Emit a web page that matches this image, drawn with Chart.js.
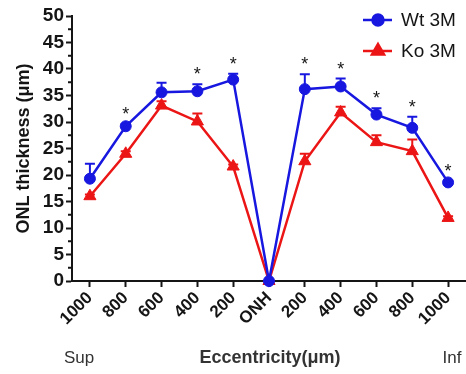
<!DOCTYPE html>
<html>
<head>
<meta charset="utf-8">
<script src="https://cdn.jsdelivr.net/npm/chart.js@4/dist/chart.umd.min.js"></script>
<style>
  html, body { margin: 0; padding: 0; background: #fff; }
  #wrap { width: 466px; height: 374px; }
</style>
</head>
<body>
<div id="wrap"><canvas id="myChart" width="466" height="374"></canvas></div>
<script>
const categories = ['1000', '800', '600', '400', '200', 'ONH', '200', '400', '600', '800', '1000'];
const wtValues = [19.3, 29.2, 35.6, 35.8, 38.0, 0, 36.2, 36.7, 31.4, 28.9, 18.6];
const wtErr    = [2.8, 0.4, 1.8, 1.3, 1.1, 0, 2.8, 1.5, 1.2, 2.1, 0.3];
const koValues = [16.0, 24.0, 33.1, 30.1, 21.6, 0, 22.6, 31.8, 26.2, 24.5, 11.9];
const koErr    = [0.3, 0.5, 0.8, 1.5, 0.4, 0, 1.4, 1.1, 1.3, 2.2, 0.3];
const stars    = [false, true, false, true, true, false, true, true, true, true, true];
const yTicks   = [0, 5, 10, 15, 20, 25, 30, 35, 40, 45, 50];

const blue = '#1717e0';
const red = '#ec1515';
const ink = '#151515';
const fontFam = '"Liberation Sans", Arial, sans-serif';

// upward error bars go under the points
const errorBars = {
	id: 'errorBars',
	beforeDatasetsDraw(chart) {
		const ctx = chart.ctx;
		const xs = chart.scales.x, ys = chart.scales.y;
		ctx.save();
		chart.data.datasets.forEach(function (ds) {
			ctx.strokeStyle = ds.borderColor;
			ctx.lineWidth = 2;
			ds.data.forEach(function (v, i) {
				const e = ds.err[i];
				if (!e) return;
				const x = xs.getPixelForValue(i);
				const y0 = ys.getPixelForValue(v);
				const y1 = ys.getPixelForValue(v + e);
				ctx.beginPath();
				ctx.moveTo(x, y0);
				ctx.lineTo(x, y1);
				ctx.moveTo(x - 5, y1);
				ctx.lineTo(x + 5, y1);
				ctx.stroke();
			});
		});
		ctx.restore();
	}
};

// asterisks, minor ticks, legend, bottom labels
const extras = {
	id: 'extras',
	afterDatasetsDraw(chart) {
		const ctx = chart.ctx;
		const xs = chart.scales.x, ys = chart.scales.y;
		ctx.save();
		ctx.fillStyle = ink;
		ctx.font = '18px ' + fontFam;
		ctx.textAlign = 'center';
		ctx.textBaseline = 'alphabetic';
		stars.forEach(function (s, i) {
			if (!s) return;
			const x = xs.getPixelForValue(i);
			const y = ys.getPixelForValue(wtValues[i] + wtErr[i]);
			ctx.fillText('*', x, y - 4);
		});

		// minor ticks on y
		ctx.strokeStyle = ink;
		ctx.lineWidth = 2;
		for (let v = 2.5; v < 50; v += 5) {
			const y = ys.getPixelForValue(v);
			ctx.beginPath();
			ctx.moveTo(ys.right - 4, y);
			ctx.lineTo(ys.right, y);
			ctx.stroke();
		}

		// legend
		const items = [
			{ label: 'Wt 3M', color: blue, style: 'circle', y: 20 },
			{ label: 'Ko 3M', color: red, style: 'triangle', y: 51 }
		];
		items.forEach(function (it) {
			ctx.strokeStyle = it.color;
			ctx.lineWidth = 2.5;
			ctx.beginPath();
			ctx.moveTo(363, it.y);
			ctx.lineTo(392, it.y);
			ctx.stroke();
			ctx.fillStyle = it.color;
			Chart.helpers.drawPoint(ctx, { pointStyle: it.style, radius: it.style === 'circle' ? 5.5 : 7, borderWidth: 1 }, 378, it.y);
			ctx.fillStyle = ink;
			ctx.font = '19px ' + fontFam;
			ctx.textAlign = 'left';
			ctx.textBaseline = 'middle';
			ctx.fillText(it.label, 401, it.y + 1);
		});

		// bottom labels
		ctx.textBaseline = 'middle';
		ctx.textAlign = 'center';
		ctx.font = '17px ' + fontFam;
		ctx.fillStyle = '#333';
		ctx.fillText('Sup', 79, 358);
		ctx.fillText('Inf', 452, 358);
		ctx.font = 'bold 18px ' + fontFam;
		ctx.fillText('Eccentricity(\u03bcm)', 270, 358);
		ctx.restore();
	}
};

const ctx = document.getElementById('myChart').getContext('2d');
new Chart(ctx, {
	type: 'line',
	data: {
		labels: categories,
		datasets: [{
			label: 'Ko 3M',
			data: koValues,
			err: koErr,
			borderColor: red,
			backgroundColor: red,
			borderWidth: 2.5,
			pointStyle: 'triangle',
			pointRadius: 7,
			pointBorderWidth: 1,
			clip: false,
			order: 2
		}, {
			label: 'Wt 3M',
			data: wtValues,
			err: wtErr,
			borderColor: blue,
			backgroundColor: blue,
			borderWidth: 2.5,
			pointStyle: 'circle',
			pointRadius: 5.5,
			pointBorderWidth: 1,
			clip: false,
			order: 1
		}]
	},
	options: {
		responsive: false,
		animation: false,
		layout: { autoPadding: false, padding: { top: 16, left: 0, right: 0, bottom: 0 } },
		plugins: {
			legend: { display: false },
			tooltip: { enabled: false }
		},
		scales: {
			x: {
				offset: true,
				afterFit: function (scale) {
					scale.height = 93;
				},
				grid: { drawOnChartArea: false, tickLength: 6, tickWidth: 2, tickColor: ink, offset: false },
				border: { color: ink, width: 2 },
				ticks: {
					color: ink,
					maxRotation: 45,
					minRotation: 45,
					padding: 1,
					font: { family: fontFam, size: 17, weight: 'bold' }
				}
			},
			y: {
				min: 0,
				max: 50,
				afterFit: function (scale) { scale.width = 72; },
				afterBuildTicks: function (scale) { scale.ticks = yTicks.map(function (v) { return { value: v }; }); },
				grid: { drawOnChartArea: false, tickLength: 6, tickWidth: 2, tickColor: ink },
				border: { color: ink, width: 2 },
				title: {
					display: true,
					text: 'ONL thickness (\u03bcm)',
					color: ink,
					padding: { top: 13, bottom: 0 },
					font: { family: fontFam, size: 18, weight: 'bold' }
				},
				ticks: {
					color: ink,
					padding: 2,
					font: { family: fontFam, size: 19, weight: 'bold' }
				}
			}
		}
	},
	plugins: [errorBars, extras]
});
</script>
</body>
</html>
